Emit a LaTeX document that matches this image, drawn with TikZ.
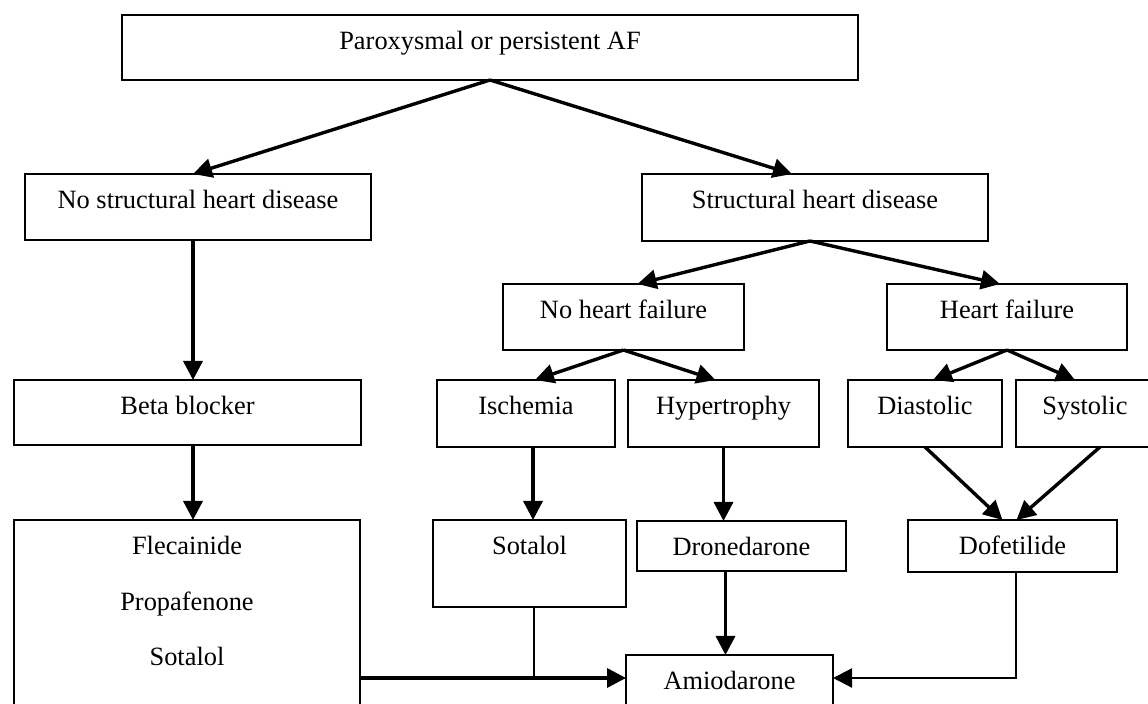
\documentclass[tikz,border=0pt]{standalone}
\usepackage{fontspec}
\setmainfont{Liberation Serif}
\usetikzlibrary{arrows.meta}
\tikzset{>={Triangle[length=9.5pt,width=9.5pt]}}
\tikzset{
  box/.style={draw, line width=1.2pt, inner sep=0pt, outer sep=0pt, anchor=north west, text height=17.5pt},
  arr/.style={->, line width=1.7pt},
  link/.style={line width=1.1pt}
}

\begin{document}
\begin{tikzpicture}[x=0.5pt, y=-0.5pt, font=\fontsize{13.2}{15}\selectfont]
      \useasboundingbox (0,0) rectangle (1148,704);
      \clip (0,0) rectangle (1148,704);
      % boxes
      \node[box, minimum width=368pt, text depth=15pt] (af) at (122,15) {Paroxysmal or persistent AF};
      \node[box, minimum width=173pt, text depth=15.5pt] (nosh) at (25,174) {No structural heart disease};
      \node[box, minimum width=173pt, text depth=16pt] (sh) at (642,174) {Structural heart disease};
      \node[box, minimum width=120.5pt, text depth=15.5pt] (nhf) at (503,284) {No heart failure};
      \node[box, minimum width=120pt, text depth=15.5pt] (hf) at (887,284) {Heart failure};
      \node[box, minimum width=173.5pt, text depth=15pt] (beta) at (14,380) {Beta blocker};
      \node[box, minimum width=89pt, text depth=16pt] (isch) at (437,380) {Ischemia};
      \node[box, minimum width=95.5pt, text depth=16pt] (hyp) at (628,380) {Hypertrophy};
      \node[box, minimum width=77pt, text depth=16pt] (dia) at (848,380) {Diastolic};
      \node[box, minimum width=69pt, text depth=16pt] (sys) at (1016,380) {Systolic};
      \node[box, minimum width=173pt, text depth=92.5pt] (flec) at (14,520) {Flecainide};
      \node[anchor=base] (propa) at ([yshift=-27.75pt]flec.base) {Propafenone};
      \node[anchor=base] (sotb) at ([yshift=-55.5pt]flec.base) {Sotalol};
      \node[box, minimum width=96.5pt, text depth=26pt] (sota) at (433,520) {Sotalol};
      \node[box, minimum width=104.5pt, text depth=7.5pt] (drone) at (637,521) {Dronedarone};
      \node[box, minimum width=104.5pt, text depth=8.5pt] (dofe) at (908,520) {Dofetilide};
      \node[box, minimum width=103.5pt, text depth=25pt] (amio) at (626,655) {Amiodarone};
      % lines
      \coordinate (lx) at (193,0);
      \coordinate (join) at (534,678);
      \draw[arr] (af.south) -- ([xshift=-2.5pt]nosh.north);
      \draw[arr] (af.south) -- ([xshift=-11.5pt]sh.north);
      \draw[arr] (lx |- nosh.south) -- (lx |- beta.north);
      \draw[arr] (lx |- beta.south) -- (lx |- flec.north);
      \draw[arr] ([xshift=-2.5pt]sh.south) -- ([xshift=7pt]nhf.north);
      \draw[arr] ([xshift=-2.5pt]sh.south) -- ([xshift=-3.5pt]hf.north);
      \draw[arr] (nhf.south) -- ([xshift=4.5pt]isch.north);
      \draw[arr] (nhf.south) -- ([xshift=-4pt]hyp.north);
      \draw[arr] (hf.south) -- ([xshift=4pt]dia.north);
      \draw[arr] (hf.south) -- ([xshift=-5pt]sys.north);
      \draw[arr] (dia.south) -- ([xshift=-5pt]dofe.north);
      \draw[arr] ([xshift=7.5pt]sys.south) -- ([xshift=2pt]dofe.north);
      \draw[arr] ([xshift=3.5pt]isch.south) -- ([xshift=3.5pt]isch.south |- sota.north);
      \draw[arr] (hyp.south) -- (hyp.south |- drone.north);
      \draw[arr] ([xshift=-8pt]drone.south) -- ([xshift=-8pt]drone.south |- amio.north);
      \draw[link] (join |- sota.south) -- (join);
      \draw[arr] (flec.east |- join) -- (amio.west |- join);
      \draw[link, ->] ([xshift=1.75pt]dofe.south) |- (amio.east |- join);
\end{tikzpicture}
\end{document}
